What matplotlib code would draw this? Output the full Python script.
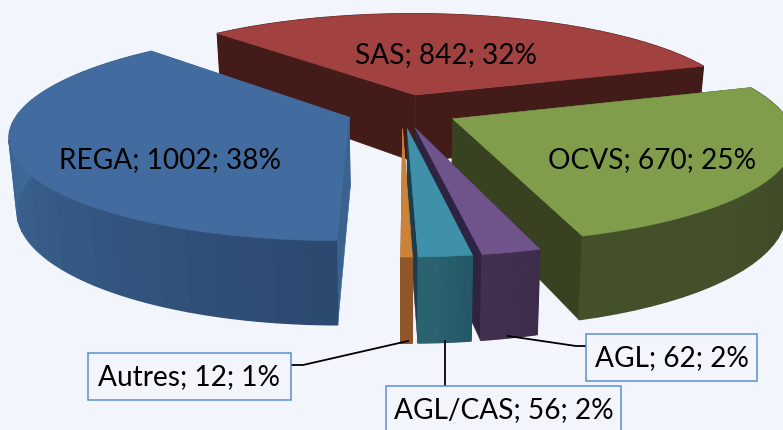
import numpy as np
import matplotlib
matplotlib.use("Agg")
import matplotlib.pyplot as plt
from matplotlib.colors import to_rgb
from matplotlib.patches import Polygon, Rectangle

categories = ["SAS", "OCVS", "AGL", "AGL/CAS", "Autres", "REGA"]
values = [842, 670, 62, 56, 12, 1002]
percents = [32, 25, 2, 2, 1, 38]

top_colors = ["#a14240", "#7f9d4a", "#6e548a", "#3f91a9", "#cc8238", "#426b9f"]
wall_start = ["#431b19", "#384220", "#3d2d4c", "#255765", "#8f5627", "#2c4970"]
wall_end = ["#431b19", "#43502a", "#43304f", "#2a6270", "#8f5627", "#3e6997"]
side_colors = ["#431b19", "#394220", "#2e2340", "#1d3e48", "#8f5627", "#3a6291"]

bg = "#f2f5fb"
start_angle = -43.3
explode = 0.17
cx, cy = 402, 111
rx, ry = 330, 100
persp = 0.17
wall_h = 69
bottom_shrink = 0.98

plt.rcParams["font.family"] = ["Lato", "DejaVu Sans"]
fig = plt.figure(figsize=(7.83, 4.3), dpi=100, facecolor=bg)
ax = fig.add_axes([0, 0, 1, 1])
ax.set_xlim(0, 783)
ax.set_ylim(430, 0)
ax.axis("off")


def project(u, v, low=False):
    # u to the right, v towards the viewer, low = bottom of the pie
    s = 1 / (1 - persp * v)
    x = cx + rx * u * s
    y = cy + ry * v * s
    if low:
        x = cx + (x - cx) * bottom_shrink
        y = y + wall_h * s
    return x, y


def poly(points, color, z, lw=0.4):
    ax.add_patch(Polygon(points, closed=True, facecolor=color, edgecolor=color, lw=lw, zorder=z))


spans = np.array(values) / sum(values) * 360
starts = start_angle + np.concatenate([[0], np.cumsum(spans)[:-1]])
draw_order = [0, 5, 1, 2, 3, 4]

for z, i in enumerate(draw_order):
    a0, a1 = starts[i], starts[i] + spans[i]
    mid = np.radians((a0 + a1) / 2)
    ou, ov = explode * np.sin(mid), -explode * np.cos(mid)
    t = np.radians(np.linspace(a0, a1, 91))
    us = ou + np.sin(t)
    vs = ov - np.cos(t)
    base = 10 * z

    # radial walls
    apex_top = project(ou, ov)
    apex_low = project(ou, ov, True)
    for k in (0, -1):
        poly([apex_top, project(us[k], vs[k]), project(us[k], vs[k], True), apex_low], side_colors[i], base + 1)

    # outer wall, shaded along the arc in a few bands
    c0, c1 = np.array(to_rgb(wall_start[i])), np.array(to_rgb(wall_end[i]))
    step = 3
    for k in range(0, len(t) - 1, step):
        f = min(k / (len(t) - 2) * 1.5, 1)
        idx = range(k, min(k + step, len(t) - 1) + 1)
        pts = [project(us[j], vs[j]) for j in idx] + [project(us[j], vs[j], True) for j in reversed(idx)]
        poly(pts, tuple(c0 + (c1 - c0) * f), base + 2, lw=1.0)

    # top face
    top = [apex_top] + [project(a, b) for a, b in zip(us, vs)]
    poly(top, top_colors[i], base + 3)


def label(i):
    return f"{categories[i]}; {values[i]}; {percents[i]}%"


fs = 20.2
ax.text(446, 55, label(0), ha="center", va="center", fontsize=fs, color="black", zorder=100)
ax.text(652, 160, label(1), ha="center", va="center", fontsize=fs, color="black", zorder=100)
ax.text(170, 160, label(5), ha="center", va="center", fontsize=fs, color="black", zorder=100)

# boxed labels: index, box x0, y0, x1, y1, leader line
boxes = [
    (2, 586, 334, 757, 381, [(586, 346), (576, 346), (508, 336)]),
    (3, 386, 386, 621, 445, [(445, 386), (445, 341)]),
    (4, 88, 353, 291, 400, [(291, 365), (303, 365), (408, 341)]),
]
for i, x0, y0, x1, y1, line in boxes:
    xs, ys = zip(*line)
    ax.plot(xs, ys, color="black", lw=1.3, zorder=90)
    ax.add_patch(Rectangle((x0, y0), x1 - x0, y1 - y0, facecolor=bg, edgecolor="#5b8fd0", lw=1.1, zorder=95))
    ax.text((x0 + x1) / 2, min(y0 + 24.5, 410), label(i), ha="center", va="center", fontsize=fs, color="black", zorder=100)

fig.savefig("out.png", dpi=100, facecolor=bg)
